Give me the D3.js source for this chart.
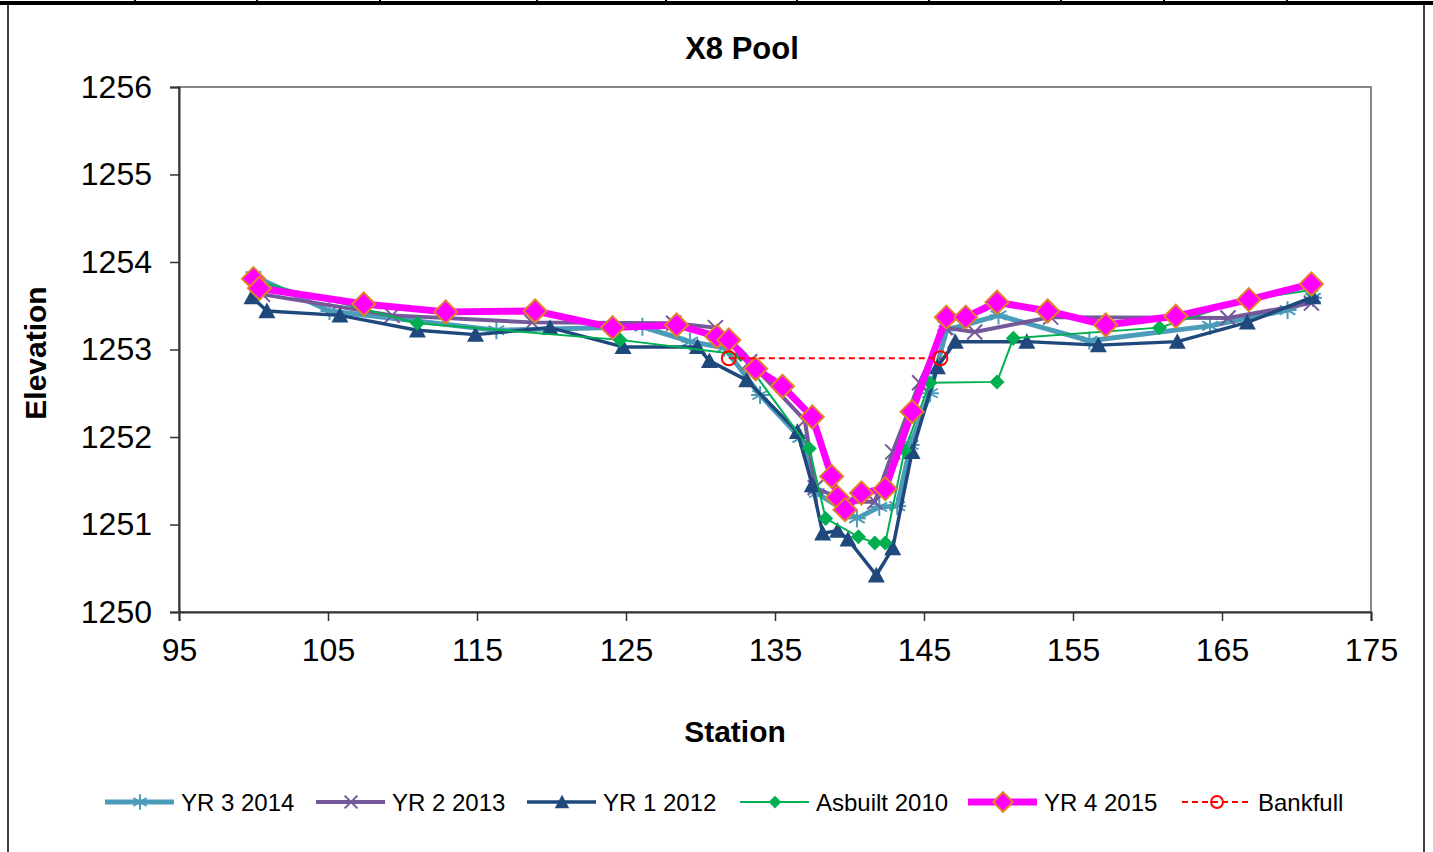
<!DOCTYPE html>
<html>
<head>
<meta charset="utf-8">
<script src="https://cdnjs.cloudflare.com/ajax/libs/d3/7.8.5/d3.min.js"></script>
<style>
	body{margin:0;background:#fff;}
	svg{display:block;font-family:Arial,'Liberation Sans',sans-serif;}
</style>
</head>
<body>
<svg id="chart" width="1433" height="852"></svg>
<script>
'use strict'
// station / elevation pairs
var yr3_2014 = [[100.0,1253.84],[105.1,1253.44],[116.3,1253.22],[126.1,1253.26],[129.3,1253.09],[131.6,1253.02],[134.0,1252.48],[136.7,1251.99],[137.8,1251.36],[140.5,1251.07],[142.0,1251.20],[143.2,1251.21],[144.1,1251.91],[145.4,1252.50],[146.5,1253.22],[150.0,1253.39],[156.1,1253.10],[164.2,1253.27],[169.4,1253.45],[171.1,1253.59]];
var yr2_2013 = [[100.6,1253.63],[109.3,1253.39],[118.7,1253.31],[128.2,1253.30],[131.0,1253.25],[133.3,1252.86],[137.0,1252.19],[137.7,1251.42],[139.9,1251.26],[141.7,1251.26],[142.9,1251.83],[144.7,1252.62],[146.4,1253.25],[148.4,1253.20],[153.5,1253.37],[165.4,1253.36],[171.0,1253.53]];
var yr1_2012 = [[99.9,1253.60],[100.9,1253.44],[105.8,1253.39],[111.0,1253.22],[114.9,1253.17],[119.9,1253.25],[124.8,1253.03],[129.8,1253.03],[130.6,1252.87],[133.1,1252.65],[136.5,1252.06],[137.5,1251.45],[138.2,1250.90],[139.2,1250.93],[139.9,1250.83],[141.8,1250.42],[142.9,1250.73],[144.2,1251.83],[145.9,1252.80],[147.1,1253.09],[151.9,1253.09],[156.7,1253.05],[162.0,1253.09],[166.7,1253.31],[171.1,1253.60]];
var asbuilt_2010 = [[100.0,1253.79],[111.0,1253.30],[124.6,1253.11],[132.7,1252.94],[137.3,1251.87],[138.4,1251.07],[140.6,1250.86],[141.7,1250.79],[142.4,1250.79],[143.7,1251.85],[145.4,1252.62],[149.9,1252.63],[151.0,1253.13],[160.8,1253.25],[166.7,1253.57],[171.0,1253.68]];
var yr4_2015 = [[100.0,1253.81],[100.4,1253.70],[107.4,1253.52],[112.9,1253.43],[118.9,1253.44],[124.1,1253.25],[128.4,1253.28],[131.1,1253.15],[131.9,1253.11],[133.7,1252.78],[135.5,1252.58],[137.5,1252.23],[138.8,1251.55],[139.2,1251.31],[139.7,1251.17],[140.8,1251.36],[142.4,1251.41],[144.2,1252.29],[146.5,1253.37],[147.8,1253.37],[149.9,1253.54],[153.3,1253.44],[157.2,1253.28],[161.9,1253.38],[166.8,1253.57],[171.0,1253.75]];
var bankfull = [[131.9,1252.90],[146.1,1252.90]];

var xTicks = [95,105,115,125,135,145,155,165,175];
var yTicks = [1250,1251,1252,1253,1254,1255,1256];

var series = [
	{name:'YR 3 2014', data:yr3_2014, color:'#4a9cb8', width:5, marker:'star'}
	,{name:'YR 2 2013', data:yr2_2013, color:'#75589a', width:4, marker:'cross'}
	,{name:'YR 1 2012', data:yr1_2012, color:'#1f497d', width:3.5, marker:'triangle'}
	,{name:'Asbuilt 2010', data:asbuilt_2010, color:'#00b050', width:2, marker:'diamond'}
	,{name:'YR 4 2015', data:yr4_2015, color:'#ff00ff', width:7, marker:'bigdiamond'}
	,{name:'Bankfull', data:bankfull, color:'#ff0000', width:2, marker:'circle', dash:'6,4'}
];

var svg = d3.select('#chart');
var W = 1433, H = 852;

// outer frame like the spreadsheet it came from
svg.append('rect').attr('x',8).attr('y',3).attr('width',1416).attr('height',H).attr('fill','none').attr('stroke','#000').attr('stroke-width',1.5);
svg.append('line').attr('x1',0).attr('x2',W).attr('y1',3).attr('y2',3).attr('stroke','#000').attr('stroke-width',4);
[135,257,380,537,666,797,929,1061,1164,1287].forEach(function(x){
	svg.append('line').attr('x1',x).attr('x2',x).attr('y1',0).attr('y2',5).attr('stroke','#000').attr('stroke-width',2);
});

var plot = {left:179, right:1371, top:87, bottom:612};
var x = d3.scaleLinear().domain([95,175]).range([plot.left,plot.right]);
var y = d3.scaleLinear().domain([1250,1256]).range([plot.bottom,plot.top]);

svg.append('rect').attr('x',plot.left).attr('y',plot.top).attr('width',plot.right-plot.left).attr('height',plot.bottom-plot.top)
	.attr('fill','none').attr('stroke','#888').attr('stroke-width',2);

var yAxis = svg.append('g').attr('transform','translate('+plot.left+',0)')
	.call(d3.axisLeft(y).tickValues(yTicks).tickSize(9).tickPadding(18).tickFormat(d3.format('d')));
var xAxis = svg.append('g').attr('transform','translate(0,'+plot.bottom+')')
	.call(d3.axisBottom(x).tickValues(xTicks).tickSize(9).tickPadding(17).tickFormat(d3.format('d')));
[yAxis,xAxis].forEach(function(g){
	g.select('.domain').attr('stroke','#333').attr('stroke-width',2);
	g.selectAll('.tick line').attr('stroke','#333').attr('stroke-width',1.5);
	g.selectAll('.tick text').attr('font-size',32).attr('fill','#000').attr('font-family','Arial, Liberation Sans, sans-serif');
});

svg.append('text').attr('x',742).attr('y',59).attr('text-anchor','middle').attr('font-size',31).attr('font-weight','bold').text('X8 Pool');
svg.append('text').attr('x',735).attr('y',742).attr('text-anchor','middle').attr('font-size',30).attr('font-weight','bold').text('Station');
svg.append('text').attr('transform','translate(46,353) rotate(-90)').attr('text-anchor','middle').attr('font-size',30).attr('font-weight','bold').text('Elevation');

// size = half width of the marker, legend ones are a bit smaller
function drawMarker(g, s, cx, cy, k){
	var m = s.marker;
	k = k || 1;
	if(m === 'star'){
		var r = 9*k;
		[0,60,120].forEach(function(a){
			var rad = a*Math.PI/180;
			g.append('line').attr('x1',cx-r*Math.sin(rad)).attr('y1',cy-r*Math.cos(rad)).attr('x2',cx+r*Math.sin(rad)).attr('y2',cy+r*Math.cos(rad))
				.attr('stroke',s.color).attr('stroke-width',2);
		});
		g.append('line').attr('x1',cx-r).attr('x2',cx+r).attr('y1',cy).attr('y2',cy).attr('stroke',s.color).attr('stroke-width',2);
	} else if(m === 'cross'){
		var c = 7.5*k;
		g.append('path').attr('d','M'+(cx-c)+','+(cy-c)+'L'+(cx+c)+','+(cy+c)+'M'+(cx-c)+','+(cy+c)+'L'+(cx+c)+','+(cy-c))
			.attr('stroke',s.color).attr('stroke-width',2);
	} else if(m === 'triangle'){
		var t = 8.5*k;
		g.append('path').attr('d','M'+cx+','+(cy-t)+'L'+(cx+t)+','+(cy+t*0.85)+'L'+(cx-t)+','+(cy+t*0.85)+'Z').attr('fill',s.color);
	} else if(m === 'diamond'){
		var d = 7.5*k;
		g.append('path').attr('d','M'+cx+','+(cy-d)+'L'+(cx+d)+','+cy+'L'+cx+','+(cy+d)+'L'+(cx-d)+','+cy+'Z').attr('fill',s.color);
	} else if(m === 'bigdiamond'){
		var b = 11.5*k;
		g.append('path').attr('d','M'+cx+','+(cy-b)+'L'+(cx+b)+','+cy+'L'+cx+','+(cy+b)+'L'+(cx-b)+','+cy+'Z')
			.attr('fill',s.color).attr('stroke','#e0822a').attr('stroke-width',2);
	} else if(m === 'circle'){
		g.append('circle').attr('cx',cx).attr('cy',cy).attr('r',7*k).attr('fill','none').attr('stroke',s.color).attr('stroke-width',2);
	}
}

var line = d3.line().x(function(d){ return x(d[0]); }).y(function(d){ return y(d[1]); });

series.forEach(function(s){
	var g = svg.append('g');
	g.append('path').datum(s.data).attr('d',line).attr('fill','none').attr('stroke',s.color)
		.attr('stroke-width',s.width).attr('stroke-linejoin','round').attr('stroke-dasharray',s.dash||null);
	s.data.forEach(function(d){ drawMarker(g, s, x(d[0]), y(d[1])); });
});

// legend
var legendX = [105,316,527,740,968,1182];
series.forEach(function(s,i){
	var g = svg.append('g'), lx = legendX[i], ly = 802;
	g.append('line').attr('x1',lx).attr('x2',lx+69).attr('y1',ly).attr('y2',ly).attr('stroke',s.color)
		.attr('stroke-width',s.width).attr('stroke-dasharray',s.dash||null);
	drawMarker(g, s, lx+35, ly, 0.85);
	g.append('text').attr('x',lx+76).attr('y',ly+9).attr('font-size',24).text(s.name);
});
</script>
</body>
</html>
